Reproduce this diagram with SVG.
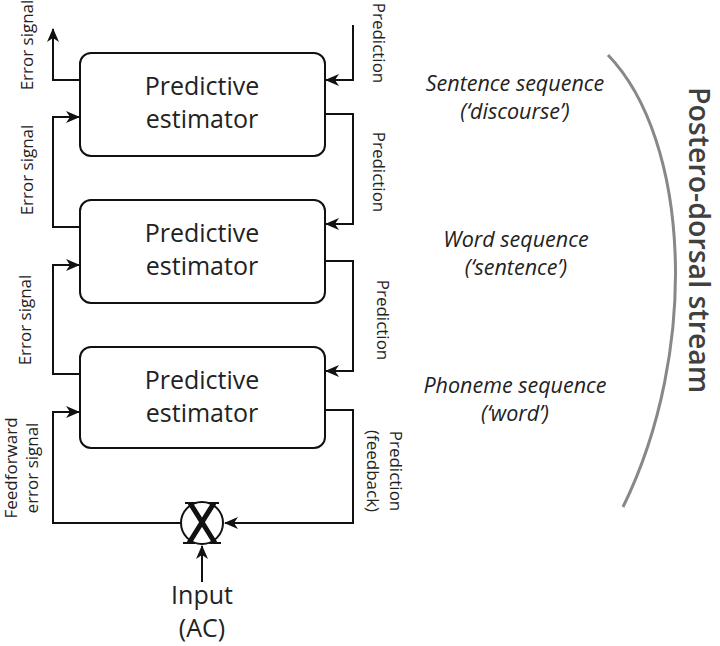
<svg xmlns="http://www.w3.org/2000/svg" width="720" height="646" viewBox="0 0 720 646">
<defs>
<marker id="ah" viewBox="0 0 14 12" refX="13" refY="6" markerWidth="14" markerHeight="12" markerUnits="userSpaceOnUse" orient="auto">
<path d="M0,0 L14,6 L0,12 L4,6 Z" fill="#111"/>
</marker>
<style>
.box{fill:#fff;stroke:#111;stroke-width:2}
.ln{fill:none;stroke:#111;stroke-width:2}
.bt{font-family:"Open Sans","Noto Sans",sans-serif;font-size:25px;fill:#222;text-anchor:middle}
.lb{font-family:"Open Sans","Noto Sans",sans-serif;font-size:17px;fill:#222;text-anchor:middle}
.it{font-family:"Open Sans","Noto Sans",sans-serif;font-size:21.5px;font-style:italic;fill:#222;text-anchor:middle}
.st{font-family:"Open Sans","Noto Sans",sans-serif;font-size:28.5px;font-weight:600;fill:#404040;text-anchor:middle}
</style>
</defs>
<rect width="720" height="646" fill="#fff"/>

<g id="connectors">
<path class="ln" d="M80,80 H53 V29" marker-end="url(#ah)"/>
<path class="ln" d="M353,25 V80 H326" marker-end="url(#ah)"/>
<path class="ln" d="M80,227 H53 V117 H79" marker-end="url(#ah)"/>
<path class="ln" d="M325,114 H353 V224 H326" marker-end="url(#ah)"/>
<path class="ln" d="M80,374 H53 V265 H79" marker-end="url(#ah)"/>
<path class="ln" d="M325,261 H353 V371 H326" marker-end="url(#ah)"/>
<path class="ln" d="M181,523 H53 V412 H79" marker-end="url(#ah)"/>
<path class="ln" d="M325,410 H353 V523 H225" marker-end="url(#ah)"/>
<path class="ln" d="M202,582 V546" marker-end="url(#ah)"/>
</g>

<g id="box1">
<rect class="box" x="80" y="53" width="245" height="103" rx="11"/>
<text class="bt" x="202" y="95">Predictive</text>
<text class="bt" x="202" y="128">estimator</text>
</g>
<g id="box2">
<rect class="box" x="80" y="200" width="245" height="103" rx="11"/>
<text class="bt" x="202" y="242">Predictive</text>
<text class="bt" x="202" y="275">estimator</text>
</g>
<g id="box3">
<rect class="box" x="80" y="347" width="245" height="101" rx="11"/>
<text class="bt" x="202" y="389">Predictive</text>
<text class="bt" x="202" y="422">estimator</text>
</g>

<g id="multiplier">
<circle cx="202" cy="523" r="21" fill="#fff" stroke="#111" stroke-width="2"/>
<path d="M190,503 L215,543 M214,503 L189,543" stroke="#111" stroke-width="5" fill="none"/>
<path d="M185,503 H196 M208,503 H219 M183,543 H195 M209,543 H221" stroke="#111" stroke-width="2" fill="none"/>
</g>

<g id="input">
<text class="bt" x="202" y="604">Input</text>
<text class="bt" x="202" y="637">(AC)</text>
</g>

<g id="left-labels">
<text class="lb" transform="translate(33,45) rotate(-90)">Error signal</text>
<text class="lb" transform="translate(33,170) rotate(-90)">Error signal</text>
<text class="lb" transform="translate(31,320) rotate(-90)">Error signal</text>
<text class="lb" transform="translate(17,468) rotate(-90)"><tspan x="0" y="0">Feedforward</tspan><tspan x="0" y="21">error signal</tspan></text>
</g>

<g id="right-labels">
<text class="lb" transform="translate(373,43) rotate(90)">Prediction</text>
<text class="lb" transform="translate(373,172) rotate(90)">Prediction</text>
<text class="lb" transform="translate(377,320) rotate(90)">Prediction</text>
<text class="lb" transform="translate(390,471) rotate(90)"><tspan x="0" y="0">Prediction</tspan><tspan x="0" y="23">(feedback)</tspan></text>
</g>

<g id="levels">
<text class="it" x="515" y="91">Sentence sequence</text>
<text class="it" x="515" y="119">(‘discourse’)</text>
<text class="it" x="516" y="247">Word sequence</text>
<text class="it" x="516" y="275">(‘sentence’)</text>
<text class="it" x="515" y="393">Phoneme sequence</text>
<text class="it" x="515" y="421">(‘word’)</text>
</g>

<g id="stream">
<path d="M608,55 C690,140 700,350 623,507" fill="none" stroke="#888" stroke-width="3"/>
<text class="st" transform="translate(689,240) rotate(90)">Postero-dorsal stream</text>
</g>
</svg>
